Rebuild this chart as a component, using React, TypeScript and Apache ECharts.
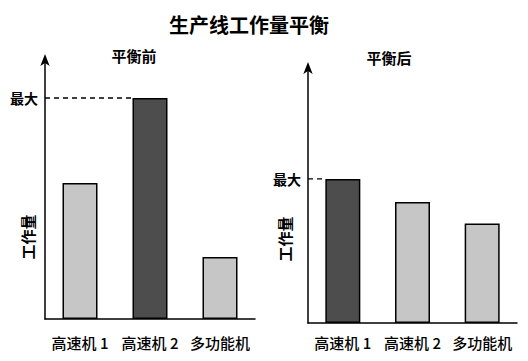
import React, { useEffect, useRef } from 'react';
import * as echarts from 'echarts';

const chartTitle = '生产线工作量平衡';
const panelTitles = ['平衡前', '平衡后'];
const categories = ['高速机 1', '高速机 2', '多功能机'];
const beforeValues = [61.5, 100, 28];
const afterValues = [100, 84, 69];
const maxValue = 100;
const maxLabel = '最大';
const yName = '工作量';

const FONT = '"Noto Sans CJK SC", "Noto Sans", sans-serif';
const LIGHT = '#c6c6c6';
const DARK = '#4d4d4d';
const BAR_W = 35;

export default function App() {
  const ref = useRef<HTMLDivElement>(null);
  useEffect(() => {
    const chart = echarts.init(ref.current!, null, { renderer: 'svg' });
    const grids = [
      { left: 45, top: 60, width: 210, height: 259 },
      { left: 308, top: 68, width: 209, height: 255 },
    ];
    const yMax = [117.2, 177];
    const datasets = [beforeValues, afterValues];
    const labelMargins = [16, 12];

    const xAxes: any[] = [];
    const yAxes: any[] = [];
    const series: any[] = [];
    datasets.forEach((vals, i) => {
      xAxes.push({
        type: 'category',
        gridIndex: i,
        data: categories,
        axisLine: { lineStyle: { color: '#000', width: 1.5 } },
        axisTick: { show: false },
        axisLabel: {
          interval: 0,
          color: '#000',
          fontSize: 15,
          fontWeight: 500,
          fontFamily: FONT,
          margin: labelMargins[i],
        },
      });
      yAxes.push({
        type: 'value',
        gridIndex: i,
        min: 0,
        max: yMax[i],
        interval: maxValue,
        splitLine: { show: false },
        axisTick: { show: false },
        axisLine: {
          show: true,
          lineStyle: { color: '#000', width: 1.5 },
          symbol: ['none', 'arrow'],
          symbolSize: [7, 12],
          symbolOffset: [0, 6],
        },
        axisLabel: {
          color: '#000',
          fontSize: 14,
          fontWeight: 'bold',
          fontFamily: FONT,
          margin: 7,
          formatter: (v: number) => (v === maxValue ? maxLabel : ''),
        },
      });
    });
    datasets.forEach((vals, i) => {
      xAxes.push({ type: 'value', gridIndex: i, min: 0, max: categories.length, show: false });
    });

    datasets.forEach((vals, i) => {
      const maxIdx = vals.indexOf(Math.max(...vals));
      series.push({
        type: 'bar',
        xAxisIndex: i,
        yAxisIndex: i,
        data: vals,
        barWidth: BAR_W,
        itemStyle: {
          color: (p: any) => (p.dataIndex === maxIdx ? DARK : LIGHT),
          borderColor: '#000',
          borderWidth: 1.5,
        },
      });
      const catW = grids[i].width / categories.length;
      const endX = maxIdx + 0.5 - BAR_W / catW / 2;
      series.push({
        type: 'line',
        xAxisIndex: 2 + i,
        yAxisIndex: i,
        data: [
          [0, vals[maxIdx]],
          [endX, vals[maxIdx]],
        ],
        symbol: 'none',
        lineStyle: { color: '#000', width: 1.3, type: [5, 4] },
        silent: true,
      });
    });

    const nameStyle = {
      text: yName,
      fontSize: 15,
      fontWeight: 'bold',
      fontFamily: FONT,
      fill: '#000',
      align: 'center',
      verticalAlign: 'middle',
    };

    chart.setOption({
      animation: false,
      backgroundColor: '#fff',
      title: [
        {
          text: chartTitle,
          left: 244,
          textAlign: 'center',
          top: 9,
          textStyle: { fontSize: 20, fontWeight: 'bold', color: '#000', fontFamily: FONT },
        },
        {
          text: panelTitles[0],
          left: 129,
          textAlign: 'center',
          top: 43,
          textStyle: { fontSize: 15, fontWeight: 'bold', color: '#000', fontFamily: FONT },
        },
        {
          text: panelTitles[1],
          left: 384,
          textAlign: 'center',
          top: 45,
          textStyle: { fontSize: 15, fontWeight: 'bold', color: '#000', fontFamily: FONT },
        },
      ],
      grid: grids,
      xAxis: xAxes,
      yAxis: yAxes,
      series,
      graphic: [
        { type: 'text', x: 27, y: 237, rotation: Math.PI / 2, style: nameStyle },
        { type: 'text', x: 284, y: 239, rotation: Math.PI / 2, style: nameStyle },
      ],
    });
    return () => chart.dispose();
  }, []);
  return <div ref={ref} style={{ width: 528, height: 361, position: 'absolute', left: 0, top: 0 }} />;
}
